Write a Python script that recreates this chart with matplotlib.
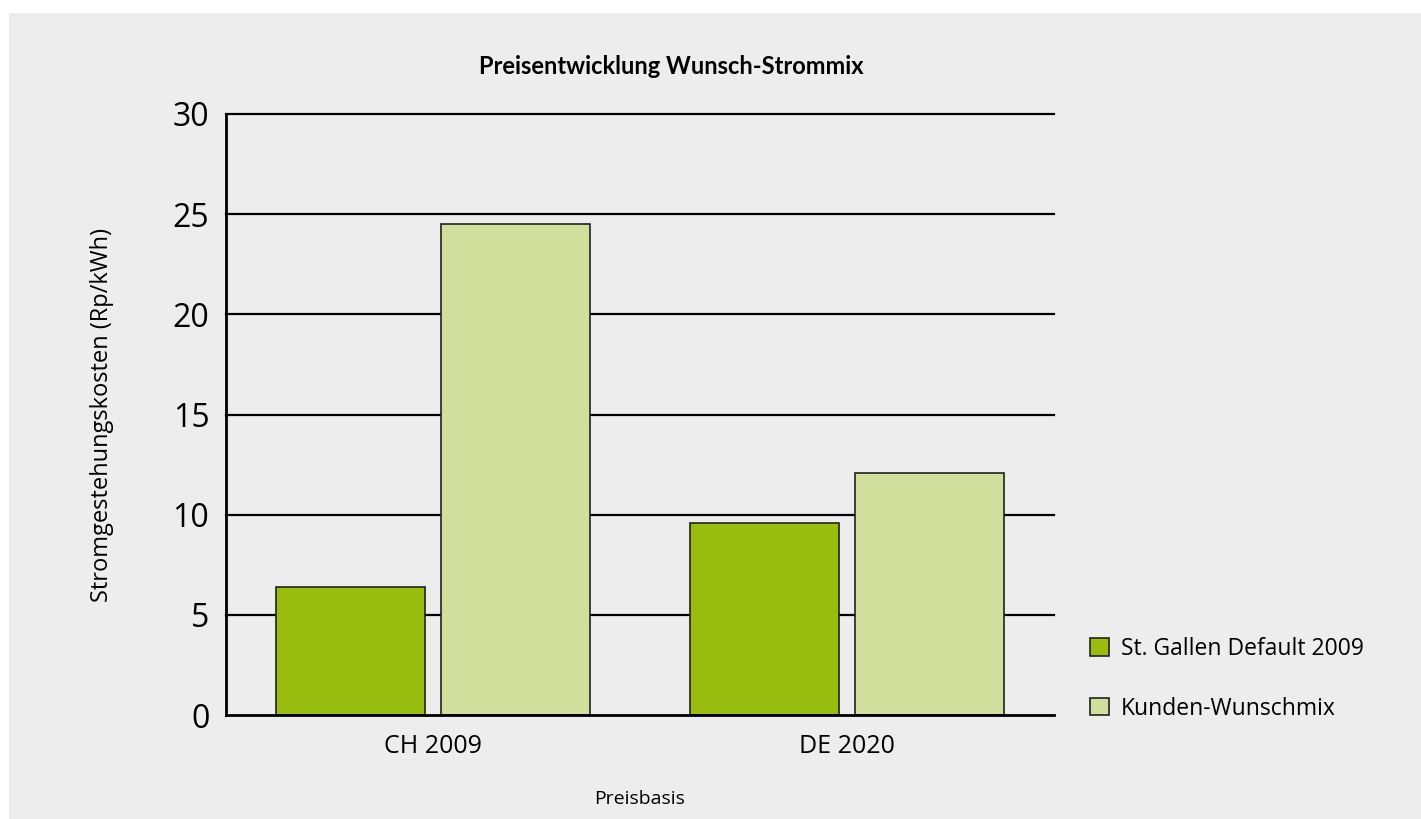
import numpy as np
import matplotlib
matplotlib.use('Agg')
import matplotlib.pyplot as plt
from matplotlib.patches import Rectangle

matplotlib.rcParams['font.family'] = ['Open Sans', 'DejaVu Sans']

categories = ['CH 2009', 'DE 2020']
series_names = ['St. Gallen Default 2009', 'Kunden-Wunschmix']
default_2009 = [6.4, 9.6]
wunschmix = [24.5, 12.1]
y_ticks = [0, 5, 10, 15, 20, 25, 30]

bg = '#ecedec'
c_dark = '#98bd0e'
c_light = '#d1df9d'

fig = plt.figure(figsize=(14.21, 8.19), dpi=100)
fig.patch.set_facecolor('white')
# grauer Hintergrund
fig.patches.append(Rectangle((9 / 1421, 0), 1 - 9 / 1421, 1 - 13 / 819,
                             transform=fig.transFigure, facecolor=bg,
                             edgecolor='none', zorder=-10))

ax = fig.add_axes([226 / 1421, 1 - 715 / 819, 828 / 1421, 601 / 819])
ax.set_facecolor(bg)

x = np.arange(len(categories))
w = 0.36
ax.bar(x - 0.2, default_2009, w, color=c_dark, edgecolor='#222222',
       linewidth=1.2, zorder=3, label=series_names[0])
ax.bar(x + 0.2, wunschmix, w, color=c_light, edgecolor='#222222',
       linewidth=1.2, zorder=3, label=series_names[1])

ax.set_xlim(-0.5, 1.5)
ax.set_ylim(0, 30)
ax.set_yticks(y_ticks)
ax.set_yticklabels([str(v) for v in y_ticks], fontsize=23)
ax.set_xticks(x)
ax.set_xticklabels(categories, fontsize=18)
ax.tick_params(axis='y', length=0, pad=12)
ax.tick_params(axis='x', length=0, pad=14)

for v in y_ticks[1:]:
    ax.axhline(v, color='black', linewidth=1.6, zorder=1, clip_on=False)

for s in ['top', 'right']:
    ax.spines[s].set_visible(False)
for s in ['left', 'bottom']:
    ax.spines[s].set_linewidth(2.0)
    ax.spines[s].set_color('black')
    ax.spines[s].set_zorder(4)

ax.set_ylabel('Stromgestehungskosten (Rp/kWh)', fontsize=17, labelpad=42)
ax.set_xlabel('Preisbasis', fontsize=14, labelpad=22)

fig.text(671 / 1421, 1 - 67 / 819, 'Preisentwicklung Wunsch-Strommix',
         ha='center', va='center', fontsize=17, fontweight='bold',
         family=['Lato', 'DejaVu Sans'])

leg = ax.legend(loc='upper left', bbox_to_anchor=(1081 / 1421, 1 - 628 / 819),
                bbox_transform=fig.transFigure, frameon=False, fontsize=16.5,
                borderaxespad=0, handlelength=0.8, handleheight=0.8,
                handletextpad=0.55, labelspacing=1.55)

fig.savefig('out.png', dpi=100, facecolor='white')
